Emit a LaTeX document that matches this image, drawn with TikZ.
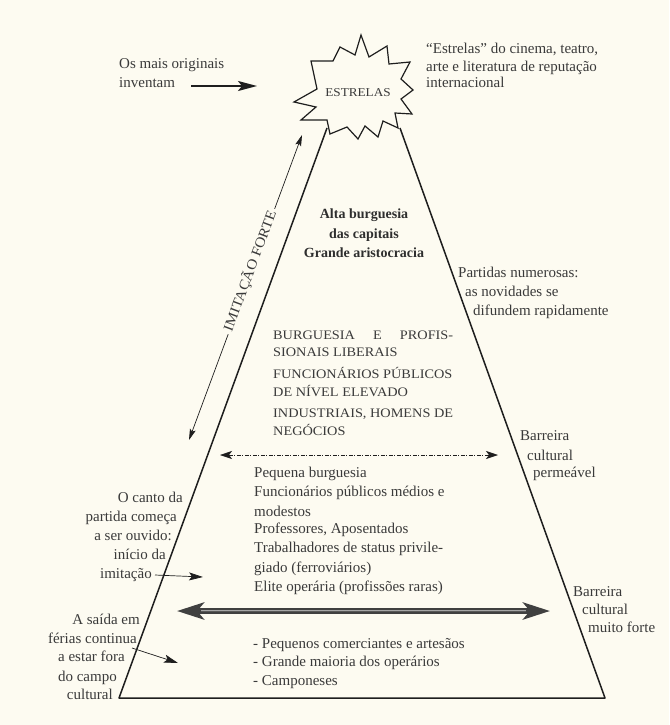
\documentclass[tikz,border=0pt]{standalone}
\usepackage{fontspec}
\setmainfont{Liberation Serif}
\newfontfamily\capsfont[FakeStretch=1.1]{Liberation Serif}
\usetikzlibrary{arrows.meta}
\definecolor{bg}{RGB}{253,251,241}
\definecolor{ink}{RGB}{58,58,58}
\definecolor{edgec}{RGB}{30,30,30}
\begin{document}
\begin{tikzpicture}[x=1pt,y=-1pt,
  txt/.style={font=\fontsize{15}{18}\selectfont, text=ink, inner sep=0pt},
  bw/.style={txt, anchor=base west},
  be/.style={txt, anchor=base east},
  capsw/.style={font=\capsfont\fontsize{13}{16}\selectfont, text=ink, inner sep=0pt, anchor=base west},
  bld/.style={font=\bfseries\fontsize{14}{17}\selectfont, text=ink!80!black, inner sep=0pt, anchor=base},
  edgeline/.style={draw=edgec, line width=1.5pt, line join=round},
  thinarrow/.style={draw=edgec, line width=0.7pt, -{Stealth[length=14pt,width=8pt,inset=3pt]}},
]
% background / bounding box
\fill[bg] (0,0) rectangle (669,725);

% pyramid
\coordinate (BL) at (119,698);
\coordinate (BR) at (605,698);
\coordinate (TL) at (327,128);
\coordinate (TR) at (400,128);
\draw[edgeline] (TL) -- (BL) -- (BR) -- (TR);

% star
\filldraw[fill=bg, draw=edgec, line width=1.2pt, line join=miter]
  (361,35) -- (369,57) -- (387,46) -- (389,64) -- (410,62) -- (401,79)
  -- (413,90) -- (401,99) -- (412,114) -- (395,113) -- (398,128) -- (383,121)
  -- (378,137) -- (365,126) -- (358,139) -- (347,127) -- (330,134) -- (327,120)
  -- (301,120) -- (316,107) -- (294,102) -- (317,89) -- (311,61) -- (333,61)
  -- (340,47) -- (355,55) -- cycle;
\node[font=\capsfont\fontsize{12}{14}\selectfont, text=ink, inner sep=0pt] (estrelas) at (358,93) {ESTRELAS};

% top left
\node[bw] (os1) at (119,69) {Os mais originais};
\node[bw] (os2) at (119,88) {inventam};
\coordinate (a1s) at (191,86);
\coordinate (a1e) at (257,86);
\draw[draw=edgec, line width=2pt, -{Stealth[length=19pt,width=10pt,inset=4pt]}] (a1s) -- (a1e);

% top right
\node[bw] (st1) at (426,54) {“Estrelas” do cinema, teatro,};
\node[bw] (st2) at (426,71.5) {arte e literatura de reputação};
\node[bw] (st3) at (426,88) {internacional};

% imitação forte
\coordinate (ifl) at (189,440);
\coordinate (ifu) at (302,135);
\draw[draw=edgec, line width=0.7pt, {Stealth[length=11pt,width=6pt,inset=2pt]}-{Stealth[length=11pt,width=6pt,inset=2pt]}] (ifl) -- (ifu);
\node[font=\capsfont\fontsize{14}{16}\selectfont, text=ink, fill=bg, inner sep=3pt, rotate=69.5] (imit) at (250,271) {IMITAÇÃO FORTE};

% alta burguesia
\node[bld] (ab1) at (364,218) {Alta burguesia};
\node[bld] (ab2) at (364,238) {das capitais};
\node[bld] (ab3) at (364,257) {Grande aristocracia};

% partidas
\node[bw] (pa1) at (458,277) {Partidas numerosas:};
\node[bw] (pa2) at (465,296) {as novidades se};
\node[bw] (pa3) at (473,315) {difundem rapidamente};

% caps block
\node[capsw] (c1) at (273,339.5) {\hbox to 180pt{BURGUESIA\hfil E\hfil PROFIS-}};
\node[capsw] (c2) at (273,356.5) {SIONAIS LIBERAIS};
\node[capsw] (c3) at (273,378.5) {FUNCIONÁRIOS PÚBLICOS};
\node[capsw] (c4) at (273,396.5) {DE NÍVEL ELEVADO};
\node[capsw] (c5) at (273,417.5) {INDUSTRIAIS, HOMENS DE};
\node[capsw] (c6) at (273,435.5) {NEGÓCIOS};

% barreira permeável
\node[bw] (bp1) at (520,440) {Barreira};
\node[bw] (bp2) at (527,460) {cultural};
\node[bw] (bp3) at (533,477) {permeável};
\coordinate (d1) at (220,455);
\coordinate (d2) at (498,455);
\draw[draw=edgec, line width=0.6pt, dash pattern=on 4pt off 1.5pt on 1pt off 1.5pt,
  {Stealth[length=12pt,width=8pt,inset=3pt]}-{Stealth[length=12pt,width=8pt,inset=3pt]}] (d1) -- (d2);

% lower block
\node[bw] (m1) at (254,477) {Pequena burguesia};
\node[bw] (m2) at (254,496) {Funcionários públicos médios e};
\node[bw] (m3) at (254,516) {modestos};
\node[bw] (m4) at (254,533) {Professores, Aposentados};
\node[bw] (m5) at (254,552) {Trabalhadores de status privile-};
\node[bw] (m6) at (254,572) {giado (ferroviários)};
\node[bw] (m7) at (254,591) {Elite operária (profissões raras)};

% left: o canto da partida
\node[be] (o1) at (183,502) {O canto da};
\node[be] (o2) at (177,521) {partida começa};
\node[be] (o3) at (172,540) {a ser ouvido:};
\node[be] (o4) at (166,559) {início da};
\node[be] (o5) at (152,578) {imitação};
\coordinate (im1) at (155,575);
\coordinate (im2) at (203,577);
\draw[thinarrow] (im1) -- (im2);

% thick barrier arrow
\coordinate (t1) at (177,611);
\coordinate (t2) at (550,611);
\draw[draw=black!75, line width=6pt,
  {Stealth[length=27pt,width=17pt,inset=7pt]}-{Stealth[length=27pt,width=17pt,inset=7pt]}] (t1) -- (t2);
\draw[draw=black!35, line width=2.6pt, shorten <=24pt, shorten >=24pt] (t1) -- (t2);
\draw[draw=black!65, line width=0.6pt, shorten <=24pt, shorten >=24pt] (t1) -- (t2);

% barreira muito forte
\node[bw] (bf1) at (573,596) {Barreira};
\node[bw] (bf2) at (582,614) {cultural};
\node[bw] (bf3) at (588,632) {muito forte};

% left: a saída em férias
\node[be] (s1) at (140,624) {A saída em};
\node[be] (s2) at (137,643) {férias continua};
\node[be] (s3) at (125,661) {a estar fora};
\node[be] (s4) at (117,681) {do campo};
\node[be] (s5) at (113,699) {cultural};
\coordinate (sa1) at (132,648);
\coordinate (sa2) at (178,663);
\draw[thinarrow] (sa1) -- (sa2);

% bottom list
\node[bw] (b1) at (253,648) {- Pequenos comerciantes e artesãos};
\node[bw] (b2) at (253,666) {- Grande maioria dos operários};
\node[bw] (b3) at (253,685) {- Camponeses};
\end{tikzpicture}
\end{document}
